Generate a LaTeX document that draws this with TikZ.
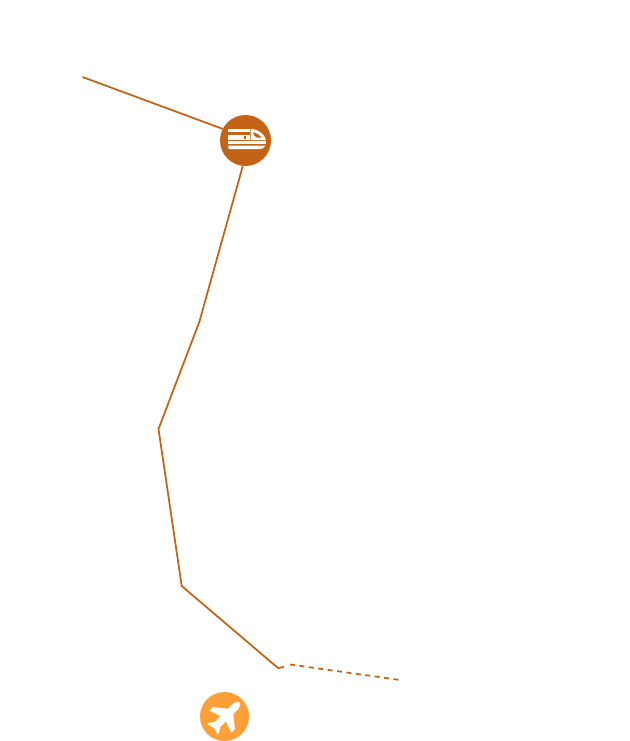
\documentclass[tikz,border=0pt]{standalone}
\tikzset{
  route/.style={draw=routeC,line width=1.75pt,line join=round},
  badge/.style={circle,inner sep=0pt,outer sep=0pt},
  glyph/.style={fill=white,draw=none}
}
\definecolor{routeC}{HTML}{C46315}
\definecolor{planeC}{HTML}{FF9F37}
\begin{document}
\begin{tikzpicture}[x=1pt,y=-1pt]
\useasboundingbox (0,0) rectangle (629,741);
\node[badge,fill=routeC,minimum size=51pt] (train) at (245.5,140.5) {};
\node[badge,fill=planeC,minimum size=49pt] (plane) at (224.5,716.5) {};
\coordinate (start) at (82.5,77);
\coordinate (a) at (199.3,322);
\coordinate (b) at (158.5,429);
\coordinate (c) at (181.7,586);
\coordinate (d) at (278,668);
\coordinate (e) at (284,667);
\coordinate (f) at (290,664.5);
\coordinate (g) at (400,680);
\draw[route] (start) -- (train.153);
\draw[route] (train.264) -- (a) -- (b) -- (c) -- (d) -- (e);
\draw[route,dash pattern=on 5pt off 4.5pt] (f) -- (g);
% train glyph
\fill[glyph] (228.3,129) rectangle (249.5,132.5);
\fill[glyph] (228.3,135) rectangle (249.5,140);
\fill[routeC] (243.7,136.4) rectangle (246,138.6);
\fill[glyph] (250.5,129) -- (253,129) .. controls (259,130.5) and (264.5,134) .. (266,140) -- (250.5,140) -- cycle;
\fill[routeC] (253.2,132) .. controls (256.5,133) and (259.5,135) .. (262,137.6) -- (256.5,137.6) .. controls (254.5,136.8) and (253.2,134.5) .. (253.2,132) -- cycle;
\fill[glyph] (228.3,141.4) rectangle (266,144);
\fill[glyph] (228.3,145.6) -- (265.5,145.6) .. controls (264.5,148) and (262,149) .. (259.5,149) -- (228.3,149) -- cycle;
% plane glyph
\begin{scope}[shift={(225,717)},rotate=45]
\fill[glyph] (20.5,0) .. controls (20.5,-2.2) and (17,-3.8) .. (13,-3.8) -- (8,-3.8) -- (-1.5,-15.5) -- (-6.5,-15.5) -- (-2.5,-3.8)
 -- (-11,-3.8) -- (-15,-7) -- (-17.5,-7) -- (-15.5,0) -- (-17.5,7) -- (-15,7) -- (-11,3.8) -- (-2.5,3.8) -- (-6.5,15.5) -- (-1.5,15.5) -- (8,3.8) -- (13,3.8) .. controls (17,3.8) and (20.5,2.2) .. (20.5,0) -- cycle;
\end{scope}
\end{tikzpicture}
\end{document}
